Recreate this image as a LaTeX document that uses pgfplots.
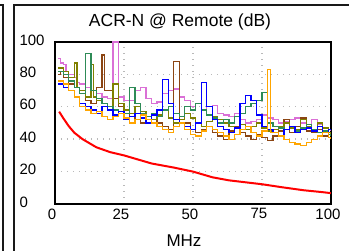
\documentclass[border=0pt]{standalone}
\usepackage{pgfplots}
\pgfplotsset{compat=1.18}
\usepackage{fontspec}
\setmainfont{Liberation Sans}
\definecolor{cpink}{HTML}{DA70D6}
\definecolor{cbrown}{HTML}{8B4513}
\definecolor{colive}{HTML}{808000}
\definecolor{cgreen}{HTML}{2E8B57}
\definecolor{cblue}{HTML}{0000FF}
\definecolor{corange}{HTML}{FFA500}
\definecolor{cred}{HTML}{FF0000}
\begin{document}
\begin{tikzpicture}[x=1pt,y=1pt]
\path[use as bounding box] (0,0) rectangle (349,251);
\draw[line width=2pt,black!90] (-1,245.5) -- (3,245.5) -- (3,-2);
\draw[line width=2pt,black!90] (14,-2) -- (14,245.5) -- (351,245.5);
\node[font=\fontsize{17.5pt}{18pt}\selectfont] at (180,229) {ACR-N @ Remote (dB)};
\node[font=\fontsize{17pt}{18pt}\selectfont] at (184,10) {MHz};
\begin{axis}[
  at={(55pt,47pt)}, anchor=south west, scale only axis,
  width=276pt, height=162pt,
  xmin=0, xmax=100, ymin=0, ymax=100,
  xtick={0,25,50,75,100}, ytick={0,20,40,60,80,100},
  major tick length=0pt,
  tick label style={font=\fontsize{15pt}{15pt}\selectfont},
  /pgf/number format/assume math mode=true,
  yticklabel style={anchor=west, xshift=-39pt, yshift=2pt},
  xticklabel style={xshift=-3pt, yshift=-1pt},
  grid=major,
  major grid style={gray!55, line width=1.4pt, dash pattern=on 1.4pt off 4.6pt},
  axis line style={line width=2.2pt, black},
  clip=true,
  every axis plot/.append style={line width=1.3pt, mark=none, const plot},
]
\addplot[cpink] coordinates {(1,90)(2,87)(3,86)(4,82)(5,80)(7,78)(8,75)(9,74)(11,72)(13,70)(15,68)(17,66)(19,65)(21,100)(23,66)(25,64)(27,64)(29,70)(31,72)(33,65)(35,62)(37,63)(39,68)(41,70)(43,71)(45,66)(47,64)(49,60)(51,62)(53,58)(55,60)(57,61)(59,56)(61,55)(63,54)(65,56)(67,52)(69,50)(71,51)(73,52)(75,55)(77,53)(79,52)(81,50)(83,51)(85,52)(87,53)(89,50)(91,48)(93,52)(95,49)(97,47)(99,46)(100,45)};
\addplot[cbrown] coordinates {(1,80)(2,82)(3,78)(5,74)(7,72)(9,68)(11,64)(13,62)(15,72)(17,92)(18,70)(19,70)(21,65)(23,60)(25,56)(27,54)(29,52)(31,50)(33,52)(35,55)(37,50)(39,48)(41,46)(43,88)(45,50)(47,50)(49,46)(51,44)(53,46)(55,48)(57,44)(59,42)(61,40)(63,45)(65,48)(67,44)(69,42)(71,40)(73,43)(75,41)(77,39)(79,42)(81,45)(83,52)(85,44)(87,48)(89,53)(91,45)(93,44)(95,46)(97,42)(99,41)(100,40)};
\addplot[colive] coordinates {(1,84)(3,82)(5,78)(7,87)(8,72)(9,70)(11,66)(13,86)(14,66)(15,64)(17,62)(19,60)(21,74)(23,62)(25,58)(27,56)(29,60)(31,57)(33,54)(35,52)(37,55)(39,58)(41,53)(43,50)(45,52)(47,56)(49,53)(51,50)(53,48)(55,51)(57,54)(59,52)(61,50)(63,48)(65,47)(67,49)(69,46)(71,48)(73,50)(75,47)(77,45)(79,46)(81,48)(83,50)(85,47)(87,46)(89,52)(91,48)(93,45)(95,50)(97,47)(99,44)(100,43)};
\addplot[cgreen] coordinates {(1,82)(3,80)(5,76)(7,72)(9,68)(11,93)(13,70)(15,65)(17,62)(19,60)(21,58)(23,57)(25,56)(27,72)(29,62)(31,56)(33,54)(35,56)(37,54)(39,58)(41,60)(43,56)(45,54)(47,60)(49,58)(51,62)(53,58)(55,55)(57,53)(59,50)(61,52)(63,50)(65,54)(67,56)(69,60)(71,62)(73,64)(75,69)(77,50)(79,48)(81,47)(83,46)(85,48)(87,45)(89,47)(91,49)(93,46)(95,44)(97,45)(99,43)(100,42)};
\addplot[cblue] coordinates {(1,74)(3,72)(5,70)(7,66)(9,62)(11,60)(13,58)(15,56)(17,60)(19,58)(21,55)(23,57)(25,52)(27,54)(29,56)(31,53)(33,50)(35,55)(37,58)(39,77)(41,62)(43,52)(45,50)(47,48)(49,46)(51,50)(53,75)(55,60)(57,52)(59,48)(61,46)(63,44)(65,47)(67,62)(69,67)(71,64)(73,55)(75,48)(77,46)(79,44)(81,42)(83,46)(85,48)(87,44)(89,46)(91,47)(93,45)(95,48)(97,44)(99,46)(100,46)};
\addplot[corange] coordinates {(1,76)(3,74)(5,70)(7,66)(9,60)(11,58)(13,56)(15,57)(17,54)(19,52)(21,54)(23,56)(25,53)(27,50)(29,52)(31,55)(33,52)(35,50)(37,48)(39,46)(41,44)(43,48)(45,50)(47,46)(49,43)(51,42)(53,45)(55,48)(57,46)(59,44)(61,42)(63,40)(65,43)(67,46)(69,48)(71,44)(73,42)(75,45)(77,83)(78,44)(79,44)(81,42)(83,40)(85,38)(87,37)(89,36)(91,38)(93,40)(95,42)(97,44)(99,41)(100,40)};
\addplot[cred, line width=2pt, sharp plot] coordinates {(1.5,57)(3,53)(5,48)(7,44)(10,40)(15,35)(20,32)(25,30)(30,27.5)(35,25)(43,22.5)(50,20)(57,16.5)(63,14.6)(69,13.4)(75,12.2)(82,10.4)(90,8.5)(97,7.3)(100,6.7)};
\end{axis}
\end{tikzpicture}
\end{document}
